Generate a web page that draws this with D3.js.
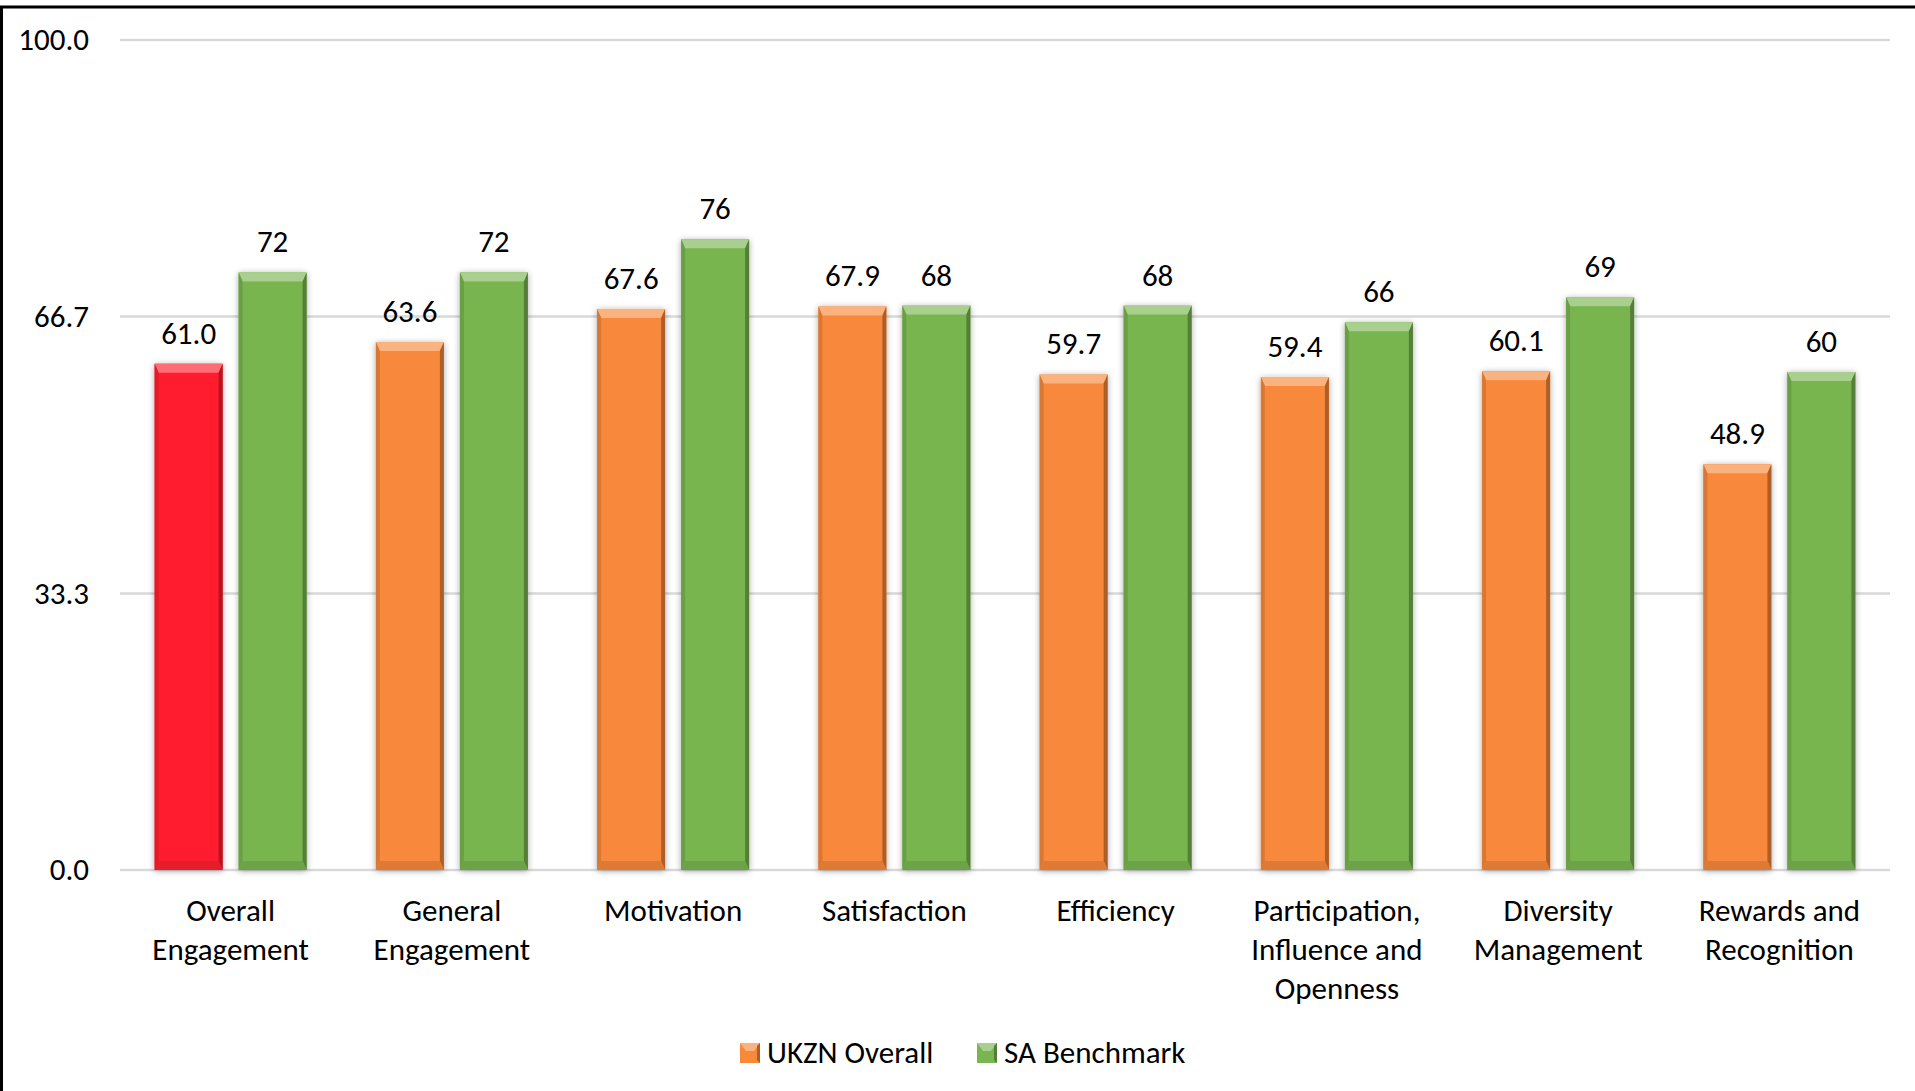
<!DOCTYPE html>
<html>
<head>
<meta charset="utf-8">
<script src="https://cdn.jsdelivr.net/npm/d3@7"></script>
<style>
  body { margin: 0; background: #fff; }
  text { font-family: Carlito, Calibri, Lato, sans-serif; fill: #000; }
</style>
</head>
<body>
<div id="chart"></div>
<script>
// chart data
var categories = ["Overall\nEngagement", "General\nEngagement", "Motivation", "Satisfaction",
  "Efficiency", "Participation,\nInfluence and\nOpenness", "Diversity\nManagement", "Rewards and\nRecognition"];
var ukznValues = [61.0, 63.6, 67.6, 67.9, 59.7, 59.4, 60.1, 48.9];
var benchmarkValues = [72, 72, 76, 68, 68, 66, 69, 60];
var seriesNames = ["UKZN Overall", "SA Benchmark"];
var tickValues = [0, 33.3, 66.7, 100];
var tickLabels = ["0.0", "33.3", "66.7", "100.0"];
var highlightIndex = 0; // overall engagement drawn in red

var svgWidth = 1915;
var svgHeight = 1091;

var margin = { top: 40, right: 25, bottom: 221, left: 120 };
var width = svgWidth - margin.left - margin.right;
var height = svgHeight - margin.top - margin.bottom;

var fontSize = "31px";
var colors = { orange: "#f8883a", green: "#79b550", red: "#fe1f2d" };

var svg = d3.select("#chart")
  .append("svg")
  .attr("width", svgWidth)
  .attr("height", svgHeight);

var defs = svg.append("defs");
var shadow = defs.append("filter").attr("id", "shadow")
  .attr("x", "-30%").attr("y", "-10%").attr("width", "160%").attr("height", "120%");
shadow.append("feDropShadow")
  .attr("dx", 0).attr("dy", 1)
  .attr("stdDeviation", 3)
  .attr("flood-color", "#000")
  .attr("flood-opacity", 0.35);

// outer frame (only top and left edges visible)
svg.append("rect")
  .attr("x", 1.5).attr("y", 7)
  .attr("width", svgWidth + 10).attr("height", svgHeight + 10)
  .attr("fill", "none")
  .attr("stroke", "#000")
  .attr("stroke-width", 3);

var chartGroup = svg.append("g")
  .attr("transform", `translate(${margin.left}, ${margin.top})`);

// scales
var x0 = d3.scaleBand()
  .domain(categories)
  .range([0, width]);

var barWidth = 68;
var barGap = 16;
var x1 = d3.scaleOrdinal()
  .domain([0, 1])
  .range([-barGap / 2 - barWidth, barGap / 2]);

var y = d3.scaleLinear()
  .domain([0, 100])
  .range([height, 0]);

// gridlines
chartGroup.append("g")
  .selectAll("line")
  .data(tickValues)
  .enter()
  .append("line")
  .attr("x1", 0)
  .attr("x2", width)
  .attr("y1", d => y(d))
  .attr("y2", d => y(d))
  .attr("stroke", "#d9d9d9")
  .attr("stroke-width", 2.5);

// y axis labels
var leftAxis = d3.axisLeft(y)
  .tickValues(tickValues)
  .tickFormat((d, i) => tickLabels[i])
  .tickSize(0)
  .tickPadding(31);

var yAxis = chartGroup.append("g").call(leftAxis);
yAxis.select(".domain").remove();
yAxis.selectAll("text")
  .attr("font-size", fontSize)
  .attr("font-family", "Carlito, Calibri, Lato, sans-serif")
  .attr("fill", "#000");

// build bar records
var bars = [];
categories.forEach((c, i) => {
  var base = i === highlightIndex ? colors.red : colors.orange;
  bars.push({ cat: c, s: 0, v: ukznValues[i], color: base, label: ukznValues[i].toFixed(1) });
  bars.push({ cat: c, s: 1, v: benchmarkValues[i], color: colors.green, label: String(benchmarkValues[i]) });
});

function barX(d) { return x0(d.cat) + x0.bandwidth() / 2 + x1(d.s); }

var bev = 9;   // top/bottom bevel
var side = 4;  // side bevel

var barGroups = chartGroup.selectAll(".bar")
  .data(bars)
  .enter()
  .append("g")
  .attr("class", "bar")
  .attr("transform", d => `translate(${barX(d)}, ${y(d.v)})`);

// main body with shadow
barGroups.append("rect")
  .attr("width", barWidth)
  .attr("height", d => y(0) - y(d.v))
  .attr("fill", d => d.color)
  .attr("filter", "url(#shadow)");

// top bevel, lighter
barGroups.append("path")
  .attr("d", `M0,0 L${barWidth},0 L${barWidth - side},${bev} L${side},${bev} Z`)
  .attr("fill", d => d3.interpolateRgb(d.color, "#fff")(0.35));

// left side, a little darker
barGroups.append("path")
  .attr("d", d => {
    var h = y(0) - y(d.v);
    return `M0,0 L${side},${bev} L${side},${h - bev} L0,${h} Z`;
  })
  .attr("fill", d => d3.interpolateRgb(d.color, "#000")(0.12));

// right side, darker
barGroups.append("path")
  .attr("d", d => {
    var h = y(0) - y(d.v);
    return `M${barWidth},0 L${barWidth - side},${bev} L${barWidth - side},${h - bev} L${barWidth},${h} Z`;
  })
  .attr("fill", d => d3.interpolateRgb(d.color, "#000")(0.3));

// bottom bevel
barGroups.append("path")
  .attr("d", d => {
    var h = y(0) - y(d.v);
    return `M0,${h} L${side},${h - bev} L${barWidth - side},${h - bev} L${barWidth},${h} Z`;
  })
  .attr("fill", d => d3.interpolateRgb(d.color, "#000")(0.1));

// value labels
chartGroup.selectAll(".value")
  .data(bars)
  .enter()
  .append("text")
  .attr("class", "value")
  .attr("x", d => barX(d) + barWidth / 2)
  .attr("y", d => y(d.v) - 20)
  .attr("text-anchor", "middle")
  .attr("font-size", fontSize)
  .text(d => d.label);

// category labels
var catLabels = chartGroup.selectAll(".cat")
  .data(categories)
  .enter()
  .append("text")
  .attr("class", "cat")
  .attr("text-anchor", "middle")
  .attr("font-size", fontSize)
  .attr("transform", d => `translate(${x0(d) + x0.bandwidth() / 2}, ${height + 51})`);

catLabels.selectAll("tspan")
  .data(d => d.split("\n"))
  .enter()
  .append("tspan")
  .attr("x", 0)
  .attr("y", (d, i) => i * 39)
  .text(d => d);

// legend
var legendItems = [
  { name: seriesNames[0], color: colors.orange, x: 740 },
  { name: seriesNames[1], color: colors.green, x: 977 }
];

var legend = svg.append("g")
  .selectAll("g")
  .data(legendItems)
  .enter()
  .append("g")
  .attr("transform", d => `translate(${d.x}, 1043)`);

legend.append("rect")
  .attr("width", 20)
  .attr("height", 20)
  .attr("fill", d => d.color);

legend.append("path")
  .attr("d", "M0,0 L20,0 L14,8 L6,8 Z")
  .attr("fill", d => d3.interpolateRgb(d.color, "#fff")(0.35));

legend.append("path")
  .attr("d", "M20,0 L20,20 L17,17 L17,3 Z")
  .attr("fill", d => d3.interpolateRgb(d.color, "#000")(0.3));

legend.append("text")
  .attr("x", 27)
  .attr("y", 20)
  .attr("font-size", fontSize)
  .text(d => d.name);
</script>
</body>
</html>
